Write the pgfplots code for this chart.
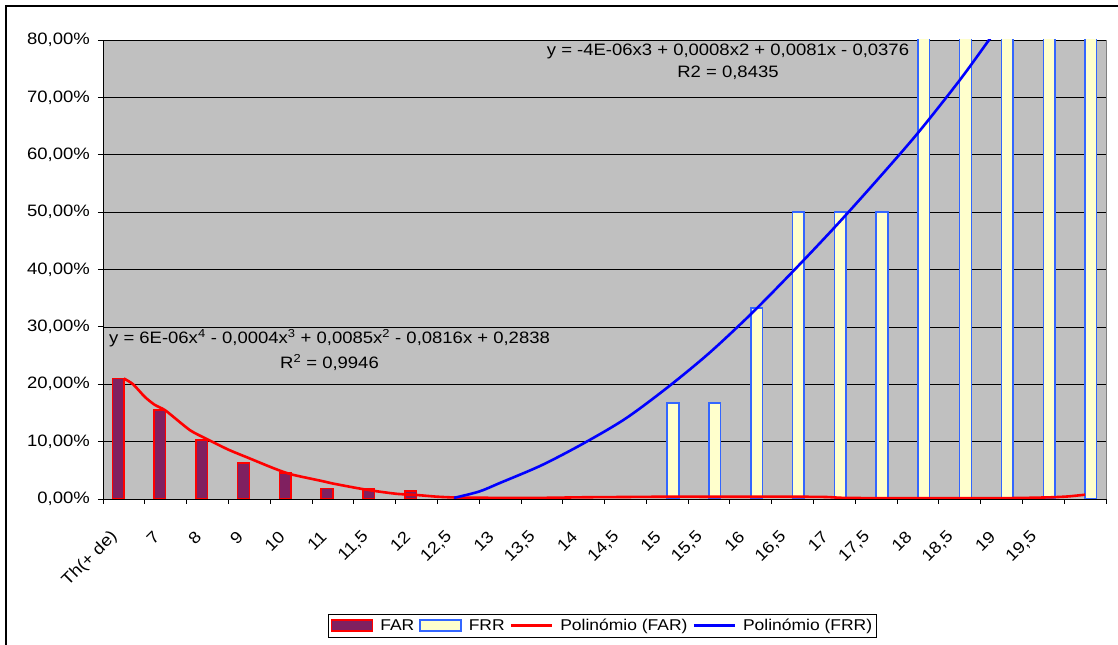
\documentclass[border=0pt]{standalone}
\usepackage{fontspec}
\setmainfont{Liberation Sans}[FakeStretch=1.12]
\usepackage{pgfplots}
\pgfplotsset{compat=1.18}
\definecolor{plotgray}{RGB}{192,192,192}
\definecolor{farfill}{RGB}{128,32,96}
\definecolor{frrfill}{RGB}{255,255,204}
\definecolor{frredge}{RGB}{51,102,255}
\newcommand{\fs}{\fontsize{16.5bp}{21.5bp}\selectfont}
\newcommand{\lfs}{\fontsize{15.6bp}{18bp}\selectfont}
\pgfplotsset{
  barleg/.style={legend image code/.code={\draw[##1] (0bp,-5.5bp) rectangle (41bp,5.5bp);}},
  lineleg/.style={legend image code/.code={\draw[##1] (0bp,0bp) -- (41bp,0bp);}},
}
\begin{document}
\begin{tikzpicture}
\useasboundingbox (0,0) rectangle (1118bp,645bp);
\fill[white] (0,0) rectangle (1118bp,645bp);
\draw[line width=1.3bp] (6bp,-2bp) -- (6bp,639bp) -- (1122bp,639bp);
\begin{axis}[
  at={(103bp,146bp)}, anchor=south west, scale only axis,
  width=1003bp, height=459bp,
  xmin=-0.5, xmax=23.5, ymin=0, ymax=80,
  axis background/.style={fill=plotgray, draw=gray},
  axis x line*=bottom, axis y line*=left,
  axis line style={black, line width=0.8bp, -},
  ytick={0,10,...,80},
  yticklabels={{0,00\%},{10,00\%},{20,00\%},{30,00\%},{40,00\%},{50,00\%},{60,00\%},{70,00\%},{80,00\%}},
  ymajorgrids, grid style={black, line width=0.6bp},
  xtick={0,...,22},
  xticklabels={Th(+ de),7,8,9,10,11,{11,5},12,{12,5},13,{13,5},14,{14,5},15,{15,5},16,{16,5},17,{17,5},18,{18,5},19,{19,5}},
  minor xtick={-0.5,0.5,...,23.5},
  major x tick style={draw=none},
  tick align=outside,
  major tick length=5bp, minor tick length=5bp,
  tick style={black, line width=0.8bp},
  yticklabel style={font=\fs, inner sep=0pt, anchor=east, xshift=-8bp},
  xticklabel style={font=\fs, inner sep=0pt, xshift=-9bp, yshift=-30bp, rotate=45, anchor=east},
  legend style={at={(0.498,-0.2756)}, anchor=center, legend columns=4,
    draw=black, line width=0.8bp, fill=white, font=\lfs,
    inner xsep=2bp, inner ysep=3bp,
    /tikz/every odd column/.append style={column sep=5bp},
    /tikz/every even column/.append style={column sep=3bp}},
  legend cell align=left,
]
\addplot[ybar, bar width=0.2775, bar shift=-0.139, fill=farfill, draw=red, line width=1.5bp, barleg]
  coordinates {(0,21.0) (1,15.5) (2,10.3) (3,6.3) (4,4.5) (5,1.8) (6,1.75) (7,1.4)};
\addlegendentry{FAR}
\addplot[ybar, bar width=0.2775, bar shift=0.139, fill=frrfill, draw=frredge, line width=1.5bp, barleg]
  coordinates {(13,16.7) (14,16.7) (15,33.3) (16,50) (17,50) (18,50) (19,100) (20,100) (21,100) (22,100) (23,100)};
\addlegendentry{FRR}
\addplot[red, line width=2.6bp, smooth, tension=0.4, lineleg]
  coordinates {(0,21.0) (0.22,20.0) (0.5,17.8) (0.74,16.4) (1,15.4) (1.58,12.0) (2,10.4) (2.5,8.6) (3,7.1) (3.57,5.4) (4,4.3) (4.76,3.1) (5,2.7) (5.58,1.9) (6,1.4) (6.53,0.9) (7,0.7) (7.5,0.4) (8,0.25) (9,0.2) (10,0.2) (11,0.3) (12,0.35) (13,0.4) (14,0.4) (15,0.4) (16,0.4) (16.8,0.35) (17.2,0.2) (18,0.15) (19,0.15) (20,0.15) (21,0.15) (21.6,0.2) (22.2,0.3) (22.6,0.45) (23,0.75)};
\addlegendentry{Polinómio (FAR)}
\addplot[blue, line width=2.6bp, smooth, tension=0.5, lineleg]
  coordinates {(7.9,0.2) (8.5,1.3) (9,2.8) (10,5.9) (11,9.7) (12,14.0) (13,19.4) (14,25.4) (15,32.2) (16,39.6) (17,47.3) (18,55.4) (19,63.8) (20,73.0) (20.7,80.0) (21.3,86.0)};
\addlegendentry{Polinómio (FRR)}
\end{axis}
\node[align=center, font=\fontsize{16.5bp}{21.5bp}\selectfont, inner sep=0pt] at (728bp,583bp)
  {y = -4E-06x3 + 0,0008x2 + 0,0081x - 0,0376\\R2 = 0,8435};
\node[align=center, font=\fontsize{16.5bp}{24.5bp}\selectfont, inner sep=0pt] at (329.5bp,295bp)
  {y = 6E-06x\textsuperscript{4} - 0,0004x\textsuperscript{3} + 0,0085x\textsuperscript{2} - 0,0816x + 0,2838\\R\textsuperscript{2} = 0,9946};
\end{tikzpicture}
\end{document}
